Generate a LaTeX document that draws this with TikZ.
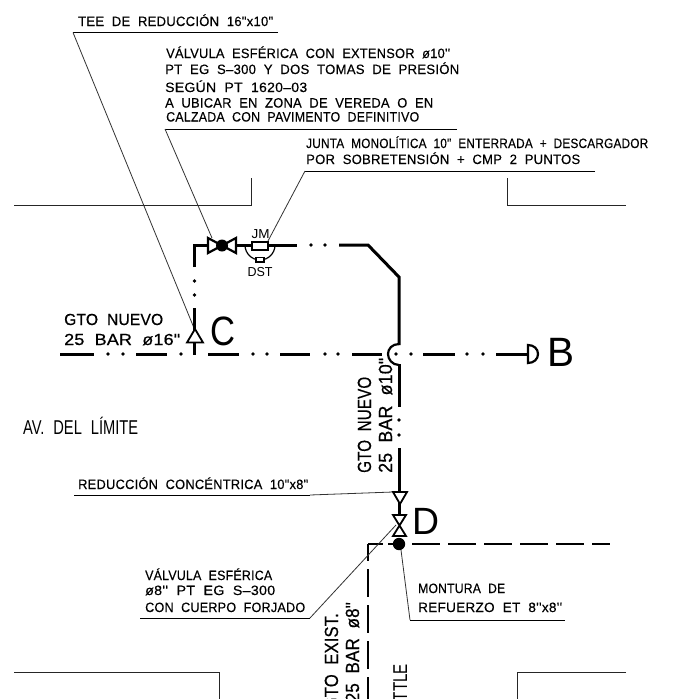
\documentclass[tikz,border=0pt]{standalone}
\usepackage{fontspec}
\usepackage{graphicx}
\setmainfont{Liberation Sans}
\newfontfamily\cadfont[LetterSpace=2,WordSpace=2,FakeBold=0.35]{Liberation Sans}
\newfontfamily\pipefont[LetterSpace=1,WordSpace=2,FakeBold=0.55]{Liberation Sans}
\newfontfamily\plainfont{Liberation Sans}
\newfontfamily\avfont[WordSpace=2.2]{Liberation Sans}
% text at a given size, stretched to the given width
\newcommand{\fitnote}[2]{\resizebox{#1pt}{\height}{\cadfont\fontsize{13.5}{15}\selectfont #2}}
\newcommand{\fitpipe}[3]{\resizebox{#2pt}{\height}{\pipefont\fontsize{#1}{20}\selectfont #3}}
\newcommand{\fitplain}[3]{\resizebox{#2pt}{\height}{\plainfont\fontsize{#1}{20}\selectfont #3}}
\tikzset{
  note/.style={anchor=base west,inner sep=0pt,text=black},
  road/.style={line width=0.9pt,draw=black!85},
  leader/.style={line width=0.8pt,draw=black!80},
  under/.style={line width=0.9pt,draw=black},
  pipe/.style={line width=3pt,draw=black},
  fit/.style={line width=1.8pt,draw=black,fill=white},
  exist/.style={line width=1.2pt,draw=black},
  pdot/.style={circle,fill=black,inner sep=0pt,minimum size=3.6pt},
}
\begin{document}
\begin{tikzpicture}[x=1pt,y=-1pt]
\fill[white] (0,0) rectangle (674,699);
\clip (0,0) rectangle (674,699);
\useasboundingbox (0,0) rectangle (674,699);

% roads
\draw[road] (14,205) -- (251,205) -- (251,178);
\draw[road] (507,178) -- (507,205) -- (626,205);
\draw[road] (14,672) -- (219,672) -- (219,699);
\draw[road] (626,672) -- (517,672) -- (517,699);

% existing dashed line
\draw[exist,dash pattern=on 28pt off 8pt,dash phase=11pt] (368,544) -- (368,699);
\draw[exist] (368,544) -- (383,544);
\draw[exist] (388,544) -- (404,544);
\draw[exist,dash pattern=on 28pt off 8pt] (412,544) -- (610,544);

% leaders
\coordinate (lteeA) at (278,32.5);
\coordinate (lteeB) at (73,32.5);
\coordinate (lteeC) at (194,328);
\coordinate (lvalA) at (457,129);
\coordinate (lvalB) at (165,129);
\coordinate (lvalC) at (212,238);
\coordinate (ljmA) at (595,171);
\coordinate (ljmB) at (305,171);
\coordinate (ljmC) at (268,241);
\coordinate (lredA) at (74,495);
\coordinate (lredB) at (310,495);
\coordinate (lredC) at (393,492);
\coordinate (lvoA) at (140,618);
\coordinate (lvoB) at (310,618);
\coordinate (lvoC) at (396,525);
\coordinate (lmoA) at (401,550);
\coordinate (lmoB) at (410,620);
\coordinate (lmoC) at (565,620);
\draw[under] (lteeA) -- (lteeB); \draw[leader] (lteeB) -- (lteeC);
\draw[under] (lvalA) -- (lvalB); \draw[leader] (lvalB) -- (lvalC);
\draw[under] (ljmA) -- (ljmB);   \draw[leader] (ljmB) -- (ljmC);
\draw[under] (lredA) -- (lredB); \draw[leader] (lredB) -- (lredC);
\draw[under] (lvoA) -- (lvoB);   \draw[leader] (lvoB) -- (lvoC);
\draw[leader] (lmoA) -- (lmoB);  \draw[under] (lmoB) -- (lmoC);

% pipe: main horizontal
\draw[pipe] (60,354) -- (94,354);
\draw[pipe] (136,354) -- (167,354);
\draw[pipe] (208,354) -- (239,354);
\draw[pipe] (280,354) -- (310,354);
\draw[pipe] (352,354) -- (382,354);
\draw[pipe] (423,354) -- (455,354);
\draw[pipe] (496,354) -- (528,354);
\foreach \n/\x in {a/108,b/123,d/181,e/253,f/267,g/325,h/338,i/396,j/411,k/467,l/483}
  \node[pdot,name=hd\n] at (\x,354) {};
% branch to C and top run
\draw[pipe] (194.5,267) -- (194.5,245) -- (207,245);
\draw[pipe] (194.5,308) -- (194.5,355);
\foreach \n/\y in {a/281,b/295} \node[pdot,name=cd\n] at (194.5,\y) {};
\draw[pipe] (237,245) -- (252,245);
\draw[pipe] (268,245) -- (297,245);
\foreach \n/\x in {a/311,b/325} \node[pdot,name=td\n] at (\x,245) {};
\draw[pipe,line join=miter] (339,245) -- (368,245) -- (399,277) -- (399,345);
% crossing bump
\draw[line width=2.2pt] (399,344) .. controls (392,344) and (388,349) .. (388,354) .. controls (388,359) and (392,365) .. (399,365);
% vertical to D
\draw[pipe] (399,364) -- (399,407);
\foreach \n/\y in {a/420,b/435} \node[pdot,name=vd\n] at (399,\y) {};
\draw[pipe] (399,448) -- (399,492);
\draw[pipe] (399,503) -- (399,516);

% fittings
\draw[fit] (187,342.5) -- (203,342.5) -- (195,329) -- cycle;
\draw[line width=2.2pt,fill=white] (528,345) -- (528,363) .. controls (534,363) and (538,359) .. (538,354) .. controls (538,349) and (534,345) .. (528,345) -- cycle;
\draw[fit] (393,492) -- (407,492) -- (400,504) -- cycle;
\draw[fit] (393,515) -- (406,515) -- (393,536) -- (406,536) -- cycle;
% ball valve top
\draw[line width=2.2pt,fill=white] (208,238) -- (236,253) -- (236,238) -- (208,253) -- cycle;
\fill (222,245.5) circle (6);
% mount
\fill (399,544) circle (6.2);
% JM + DST
\draw[line width=1.2pt] (245,245) arc[start angle=180,end angle=0,radius=15];
\draw[line width=1.4pt,fill=white] (252,242) rectangle (268,250);
\draw[line width=1.1pt,fill=white] (256,257.5) rectangle (264,262);

% notes
\node[note,name=t1] at (78,26) {\fitnote{195}{TEE DE REDUCCIÓN 16"x10"}};
\node[note,name=t2] at (166,58) {\fitnote{284}{VÁLVULA ESFÉRICA CON EXTENSOR ø10''}};
\node[note,name=t3] at (165,74) {\fitnote{294}{PT EG S–300 Y DOS TOMAS DE PRESIÓN}};
\node[note,name=t4] at (165,92) {\fitnote{142}{SEGÚN PT 1620–03}};
\node[note,name=t5] at (165,107.5) {\fitnote{268}{A UBICAR EN ZONA DE VEREDA O EN}};
\node[note,name=t6] at (166,121.5) {\fitnote{253}{CALZADA CON PAVIMENTO DEFINITIVO}};
\node[note,name=t7] at (306,148) {\fitnote{342}{JUNTA MONOLÍTICA 10" ENTERRADA + DESCARGADOR}};
\node[note,name=t8] at (306,164) {\fitnote{274}{POR SOBRETENSIÓN + CMP 2 PUNTOS}};
\node[note,name=t9] at (78,489) {\fitnote{230}{REDUCCIÓN CONCÉNTRICA 10"x8"}};
\node[note,name=t10] at (145,580) {\fitnote{127}{VÁLVULA ESFÉRICA}};
\node[note,name=t11] at (145,595) {\fitnote{130}{ø8'' PT EG S–300}};
\node[note,name=t12] at (145,612) {\fitnote{160}{CON CUERPO FORJADO}};
\node[note,name=t13] at (418,593) {\fitnote{87}{MONTURA DE}};
\node[note,name=t14] at (418,612) {\fitnote{144}{REFUERZO ET 8''x8''}};
\node[note,name=g1] at (64,325) {\fitpipe{16}{99}{GTO NUEVO}};
\node[note,name=g2] at (64,345) {\fitpipe{16}{116}{25 BAR ø16"}};
\node[note,name=av] at (23,434) {\resizebox{115pt}{\height}{\avfont\fontsize{20}{22}\selectfont AV. DEL LÍMITE}};
\node[note,rotate=90,name=g3] at (371,473) {\fitpipe{19}{96}{GTO NUEVO}};
\node[note,rotate=90,name=g4] at (392,473) {\fitpipe{19}{115}{25 BAR ø10"}};
\node[note,rotate=90,anchor=base east,name=g5] at (338,613) {\fitpipe{19}{97}{GTO EXIST.}};
\node[note,rotate=90,anchor=base east,name=g6] at (359,602) {\fitpipe{19}{100}{25 BAR ø8"}};
\node[note,rotate=90,anchor=base east,name=g7] at (407,664) {\fitplain{20}{46}{ATTLE}};
% letters
\node[note,name=lc] at (210,345) {\fitplain{41}{25}{C}};
\node[note,name=lb] at (547,366.5) {\fitplain{41}{27}{B}};
\node[note,name=ld] at (412,534) {\fitplain{38}{27}{D}};
\node[name=jm,inner sep=0pt,anchor=base] at (260.5,238) {\fitplain{13}{18}{JM}};
\node[name=dst,inner sep=0pt,anchor=base] at (260,276) {\fitplain{13}{25}{DST}};
\end{tikzpicture}
\end{document}
